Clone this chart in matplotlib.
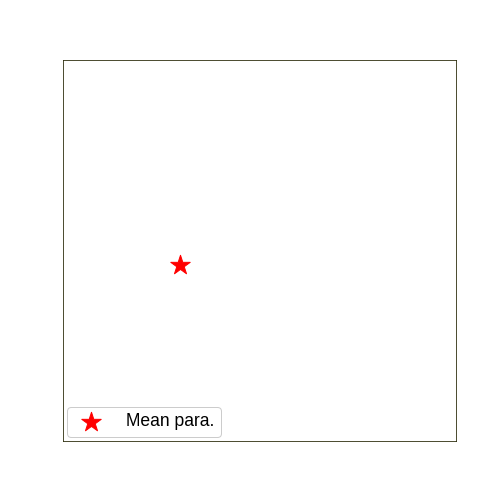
import matplotlib
matplotlib.use("Agg")
import matplotlib.pyplot as plt

plt.rcParams['font.family'] = ['Liberation Sans', 'DejaVu Sans']

# mean parameter point (axes units 0..1)
mean_x = [0.298]
mean_y = [0.462]
label = "Mean para."

fig = plt.figure(figsize=(7, 7), dpi=72)
ax = fig.add_axes([63 / 504, 63 / 504, 393 / 504, 381 / 504])
ax.set_xlim(0, 1)
ax.set_ylim(0, 1)
ax.set_xticks([])
ax.set_yticks([])
for s in ax.spines.values():
    s.set_color('#222200')
    s.set_linewidth(0.8)

ax.scatter(mean_x, mean_y, marker='*', s=420, color='red', label=label, zorder=3)

ax.legend(loc='lower left', fontsize=17.5, handletextpad=1.0, borderpad=0.35,
          borderaxespad=0.25, handlelength=2.0, scatterpoints=1, framealpha=1)

fig.savefig('out.png', dpi=72)
